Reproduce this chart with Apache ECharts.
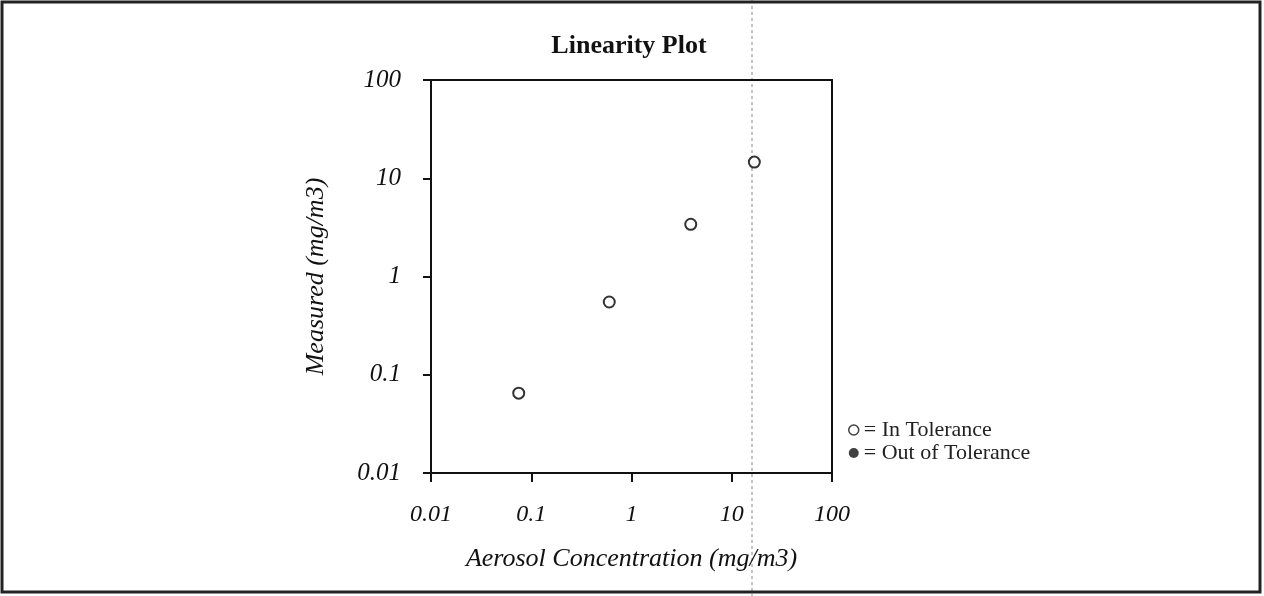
<!DOCTYPE html>
<html>
<head>
<meta charset="utf-8">
<title>Linearity Plot</title>
<script src="https://cdn.jsdelivr.net/npm/echarts@6/dist/echarts.min.js"></script>
<style>
	html, body { margin: 0; padding: 0; background: #fff; }
	#grafico { width: 1264px; height: 596px; }
</style>
</head>
<body>
<div id="grafico"></div>
<script>
// valores
const concentracao = [0.075, 0.6, 3.9, 16.8]
const medido = [0.065, 0.55, 3.4, 14.6]
const tickLabels = ['0.01', '0.1', '1', '10', '100']
const legendas = ['In Tolerance', 'Out of Tolerance']

const fonte = '"Liberation Serif", "DejaVu Serif", serif'

function labelLog(value) {
	const i = Math.round(Math.log10(value)) + 2
	return tickLabels[i] || ''
}

const myChart = echarts.init(document.getElementById('grafico'))

myChart.setOption({
	animation: false,
	backgroundColor: '#fff',
	title: {
		text: 'Linearity Plot',
		left: 624,
		top: 28,
		textAlign: 'center',
		textStyle: { fontFamily: fonte, fontWeight: 'bold', fontSize: 26, color: '#111' }
	},
	legend: {
		orient: 'vertical',
		left: 843,
		top: 414,
		itemWidth: 10,
		itemHeight: 10,
		itemGap: 1,
		data: [
			{ name: legendas[0], icon: 'circle', itemStyle: { color: '#fff', borderColor: '#111', borderWidth: 1.5 } },
			{ name: legendas[1], icon: 'circle', itemStyle: { color: '#111' } }
		],
		formatter: (name) => '= ' + name,
		textStyle: { fontFamily: fonte, fontSize: 22, lineHeight: 20, color: '#222' }
	},
	grid: {
		left: 431,
		top: 80,
		width: 401,
		height: 393,
		show: true,
		borderColor: '#111',
		borderWidth: 2
	},
	xAxis: {
		type: 'log',
		logBase: 10,
		min: 0.01,
		max: 100,
		name: 'Aerosol Concentration (mg/m3)',
		nameLocation: 'middle',
		nameGap: 73,
		nameTextStyle: { fontFamily: fonte, fontStyle: 'italic', fontSize: 26, color: '#111' },
		axisLine: { lineStyle: { color: '#111', width: 2 } },
		axisTick: { inside: false, length: 9, lineStyle: { color: '#111', width: 2 } },
		axisLabel: {
			margin: 30,
			formatter: labelLog,
			fontFamily: fonte, fontStyle: 'italic', fontSize: 24, color: '#111'
		},
		splitLine: { show: false },
		minorTick: { show: false }
	},
	yAxis: {
		type: 'log',
		logBase: 10,
		min: 0.01,
		max: 100,
		name: 'Measured (mg/m3)',
		nameLocation: 'middle',
		nameGap: 102,
		nameTextStyle: { fontFamily: fonte, fontStyle: 'italic', fontSize: 26, color: '#111' },
		axisLine: { lineStyle: { color: '#111', width: 2 } },
		axisTick: { inside: false, length: 8, lineStyle: { color: '#111', width: 2 } },
		axisLabel: {
			margin: 30,
			formatter: labelLog,
			fontFamily: fonte, fontStyle: 'italic', fontSize: 25, color: '#111'
		},
		splitLine: { show: false },
		minorTick: { show: false }
	},
	series: [
		{
			name: legendas[0],
			type: 'scatter',
			symbol: 'emptyCircle',
			symbolSize: 11,
			itemStyle: { color: '#000', borderColor: '#000', borderWidth: 2.5 },
			data: concentracao.map((c, i) => [c, medido[i]])
		},
		{
			// nenhum ponto fora da tolerancia
			name: legendas[1],
			type: 'scatter',
			symbol: 'circle',
			symbolSize: 10,
			itemStyle: { color: '#111' },
			data: []
		}
	],
	graphic: [
		// moldura da pagina escaneada
		{
			type: 'rect',
			shape: { x: 2, y: 2, width: 1258, height: 590 },
			style: { fill: null, stroke: '#222', lineWidth: 3 },
			silent: true
		},
		// linha de dobra do papel
		{
			type: 'line',
			shape: { x1: 752, y1: 0, x2: 752, y2: 596 },
			style: { stroke: '#888', lineWidth: 1, lineDash: [3, 3] },
			silent: true,
			z: -1
		}
	]
})
</script>
</body>
</html>
